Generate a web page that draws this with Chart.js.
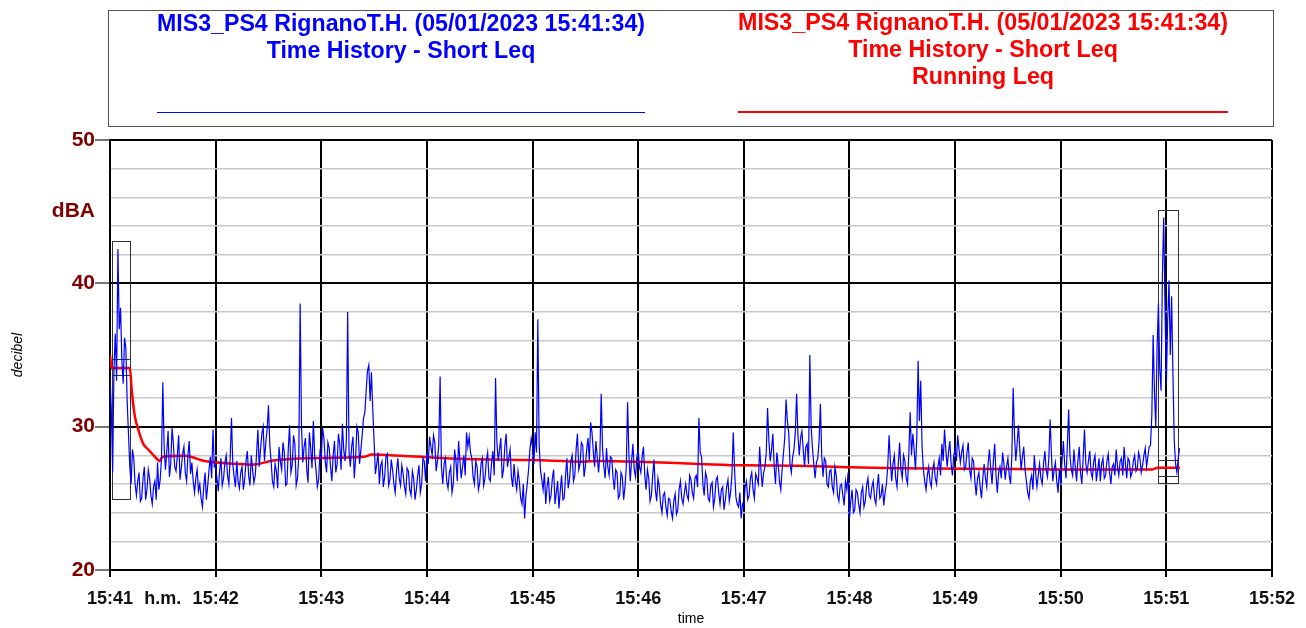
<!DOCTYPE html>
<html>
<head>
<meta charset="utf-8">
<title>MIS3_PS4 RignanoT.H. - Time History</title>
<script src="https://cdn.jsdelivr.net/npm/chart.js@4.4.0/dist/chart.umd.min.js"></script>
<style>
  html, body { margin: 0; padding: 0; background: #fff; }
  #wrap { width: 1306px; height: 628px; }
</style>
</head>
<body>
<div id="wrap"><canvas id="chart" width="1306" height="628"></canvas></div>
<script>
// Short Leq: one sample every 1.5 s from 15:41,
// plus the in-between readings (offset by half a step)
const stepSec = 1.5;
const leq4142 = [33.5,26.8,36.5,42.4,38.3,33.0,35.5,29.5,26.0,27.8,25.2,26.8,25.0,27.2,25.6,26.4,24.6,26.2,27.5,26.3,
                 33.1,27.0,29.7,27.4,28.8,26.9,29.4,27.1,28.6,26.2,29.0,27.5,25.4,27.0,26.0,24.4,26.8,25.9,27.9,29.8];
const leq4142h = [31.2,34.0,33.2,36.8,34.6,36.2,31.8,27.2,28.4,26.0,26.2,24.8,26.4,24.9,27.0,25.2,25.8,24.9,25.6,27.8,
                  28.6,28.2,26.5,29.9,27.2,28.0,26.3,28.1,26.8,28.0,26.7,26.2,26.4,25.5,25.0,25.8,24.9,27.0,26.4,27.2];
const leq4243 = [27.3,25.5,27.8,26.4,28.0,26.0,30.6,26.5,27.6,25.7,27.2,26.3,28.3,25.9,27.0,26.6,29.8,28.4,30.0,28.9,
                 31.5,27.6,25.8,26.9,28.6,27.0,28.2,26.0,30.1,27.3,28.8,26.4,38.6,27.5,29.2,26.1,28.5,30.4,27.0,26.3];
const leq4243h = [26.4,26.9,25.9,27.5,26.6,27.8,27.4,25.8,26.2,26.8,25.6,27.6,26.6,28.0,26.1,28.1,27.2,29.5,27.6,29.8,
                  28.8,26.2,27.4,25.7,27.6,28.9,25.9,28.4,26.8,29.4,25.9,28.0,30.2,28.6,27.0,29.6,27.1,28.0,25.8,28.2];
const leq4344 = [27.8,29.2,26.8,28.5,26.2,29.0,27.4,28.8,30.2,27.6,38.0,27.2,29.3,27.8,29.6,28.4,30.6,32.5,34.3,33.8,
                 29.0,27.4,26.0,27.6,26.5,28.1,26.3,27.0,25.4,27.8,25.9,26.7,25.3,26.9,25.2,26.4,25.6,27.3,26.0,27.6];
const leq4344h = [29.9,27.6,28.9,27.2,28.0,26.8,29.5,27.0,28.4,29.0,28.3,28.6,26.4,30.0,27.4,29.4,31.0,33.9,31.8,31.2,
                  26.7,28.2,27.3,25.8,27.9,25.9,27.7,26.0,26.9,26.4,27.3,25.8,27.1,25.6,26.9,24.9,26.6,25.4,27.8,26.2];
const leq4445 = [28.2,29.3,28.0,28.9,27.6,33.5,26.0,27.8,25.7,27.2,26.0,27.6,29.0,26.4,28.0,29.6,29.3,27.8,26.0,27.2,
                 26.1,27.8,26.4,28.2,26.2,28.3,33.4,27.6,29.2,27.0,29.5,27.8,26.5,27.4,25.6,26.2,24.6,23.6,26.0,28.4];
const leq4445h = [27.4,28.6,29.4,26.9,28.8,27.2,27.4,26.2,26.8,25.4,28.4,26.2,27.6,27.2,26.6,28.6,28.2,26.5,27.6,25.6,
                  27.4,25.9,27.6,26.4,27.5,26.6,28.9,28.4,26.4,28.6,27.2,28.4,25.8,26.2,26.9,25.0,26.0,25.2,27.0,29.2];
const leq4546 = [28.6,29.6,37.5,27.0,25.6,24.6,26.5,25.2,27.0,25.4,24.3,26.6,25.0,27.8,26.3,28.0,26.6,29.5,27.4,28.7,
                 27.2,29.2,30.3,28.3,29.0,26.8,32.3,27.2,28.5,26.6,27.8,25.6,26.8,25.2,26.5,25.8,31.7,26.2,28.8,26.5];
const leq4546h = [27.4,28.2,28.8,26.3,26.8,25.8,24.8,26.4,24.6,26.2,25.5,24.9,26.6,25.7,27.6,26.2,28.4,27.0,28.9,26.5,
                  28.4,27.6,29.6,27.2,27.9,28.0,28.5,26.4,27.2,27.9,26.4,27.0,25.0,26.8,24.9,27.2,28.0,27.6,27.0,27.9];
const leq4647 = [28.4,26.8,28.6,25.6,26.4,25.2,27.7,24.8,25.8,24.0,25.4,23.8,24.9,23.6,25.3,24.2,26.2,24.6,26.0,24.9,
                 26.3,25.0,26.6,30.6,27.9,25.2,26.4,24.8,26.1,25.0,26.5,24.6,25.8,24.9,26.3,25.4,29.6,25.1,24.4,23.6];
const leq4647h = [27.2,27.9,26.6,27.0,24.8,26.6,25.6,26.4,24.6,25.2,24.4,25.0,24.1,24.8,23.9,25.6,25.0,25.4,25.2,26.6,
                  25.4,26.4,25.8,28.2,26.0,26.8,25.0,25.9,24.4,26.3,25.4,25.6,24.2,25.8,24.8,26.6,27.0,24.6,25.4,24.6];
const leq4748 = [24.4,26.2,25.2,26.8,25.0,26.4,28.6,25.8,27.2,31.3,27.6,29.5,26.0,27.4,25.6,28.1,31.9,29.6,26.8,28.4,
                 32.3,28.0,29.7,27.2,28.8,35.0,28.5,26.4,27.8,31.6,26.5,27.6,25.8,27.0,25.4,26.6,24.8,26.0,24.5,25.6];
const leq4748h = [25.8,24.9,26.4,25.6,26.7,26.0,27.0,26.8,28.2,29.0,28.4,27.2,28.2,26.2,27.0,29.2,30.4,27.4,27.9,29.6,
                  29.4,29.2,28.4,28.6,27.4,30.0,27.4,27.5,29.0,28.0,27.8,26.0,26.9,25.8,27.2,25.2,25.9,25.2,26.2,26.8];
const leq4849 = [23.6,25.6,24.2,25.4,24.0,25.8,24.8,26.4,25.0,26.2,24.6,26.7,25.2,24.5,26.0,29.4,26.2,28.0,25.8,28.9,
                 26.4,27.6,26.0,31.0,29.5,27.0,34.6,33.2,27.0,25.6,27.2,25.8,27.5,26.0,27.8,28.8,29.8,27.2,29.0,26.6];
const leq4849h = [24.8,24.0,25.6,24.6,25.4,24.4,25.9,25.2,25.8,25.0,25.8,25.0,26.0,25.4,27.2,27.6,27.4,26.4,27.4,27.0,
                  28.0,26.4,28.2,28.0,28.4,29.2,30.4,28.6,26.2,26.6,26.2,27.0,26.4,27.2,26.6,27.6,28.4,28.2,27.4,28.0];
const leq4950 = [28.4,29.4,27.5,28.7,27.2,28.9,26.4,27.6,25.2,26.8,25.0,27.4,25.8,28.4,26.0,28.8,25.4,27.2,28.2,26.3,
                 27.8,26.0,32.7,27.6,30.1,27.0,28.6,26.2,25.0,26.6,28.0,25.8,27.4,26.0,28.3,26.5,30.5,26.2,27.5,25.4];
const leq4950h = [27.6,28.4,28.2,27.0,28.2,27.0,27.8,26.2,26.4,25.8,26.4,26.4,27.4,27.0,27.6,26.6,26.8,26.4,27.4,27.2,
                  26.6,28.0,29.4,28.8,28.4,27.9,27.0,25.4,26.2,25.6,26.8,26.6,26.4,27.4,27.0,27.8,28.0,27.0,26.2,27.0];
const leq5051 = [26.0,29.0,26.4,31.2,27.0,28.4,26.2,28.6,26.0,29.8,26.8,28.3,26.4,28.0,27.0,26.2,27.8,26.6,28.1,26.0,
                 27.4,28.4,26.6,27.8,28.6,26.4,27.6,26.8,28.0,27.1,27.8,27.3,28.5,27.9,28.7,36.4,30.0,38.6,32.5,44.6];
const leq5051h = [27.6,27.4,28.6,28.0,26.6,27.2,27.6,26.8,27.8,27.4,27.6,26.8,27.6,26.2,27.8,27.4,26.4,27.6,26.8,27.2,
                  26.6,27.2,27.6,26.6,27.4,27.8,26.5,27.6,26.9,28.2,26.8,28.0,27.2,28.6,30.8,32.4,35.6,34.0,40.5,38.2];
const leq5152 = [33.0,40.2,39.1,29.0,26.8,28.5];
const leq5152h = [37.4,35.0,33.6,27.4,27.8];

// Running Leq (minutes after 15:41, dB)
const runTimes = [0,0.016,0.189,0.205,0.236,0.268,0.315,0.363,0.426,0.473,0.495,0.709,0.898,1.214,1.34,1.56,1.844,
                  2.412,2.475,2.79,3.374,4.0,4.477,4.635,5.0,5.58,6.0,6.48,7.0,7.47,8.37,8.985,9.87,9.915,10.13];
const runLeq = [35.0,34.1,34.1,32.6,30.7,29.8,28.8,28.4,27.9,27.6,27.9,27.97,27.6,27.4,27.35,27.65,27.8,
                27.9,28.05,27.95,27.74,27.67,27.56,27.6,27.55,27.4,27.3,27.28,27.16,27.1,27.05,27.02,27.02,27.14,27.14];

// Marked events (minutes, dB)
const markFrom = [0.022, 9.92];
const markTo = [0.189, 10.11];
const markTop = [42.95, 45.15];
const markBottom = [24.95, 26.1];
const markInnerTop = [34.7, 27.67];
const markInnerBottom = [33.6, 26.58];

// axes
const yTicks = [20,22,24,26,28,30,32,34,36,38,40,42,44,45,46,48,50];
const xTicks = [0,0.5,1,1.5,2,2.5,3,3.5,4,4.5,5,5.5,6,6.5,7,7.5,8,8.5,9,9.5,10,10.5,11];
const firstMinute = 41;

// legend
const legendBlue = ['MIS3_PS4 RignanoT.H. (05/01/2023 15:41:34)', 'Time History - Short Leq'];
const legendRed = ['MIS3_PS4 RignanoT.H. (05/01/2023 15:41:34)', 'Time History - Short Leq', 'Running Leq'];

const shortLeq = [].concat(leq4142, leq4243, leq4344, leq4445, leq4546, leq4647, leq4748, leq4849, leq4950, leq5051, leq5152);
const shortMid = [].concat(leq4142h, leq4243h, leq4344h, leq4445h, leq4546h, leq4647h, leq4748h, leq4849h, leq4950h, leq5051h, leq5152h);
const shortPts = [];
shortLeq.forEach((v, i) => {
    shortPts.push({ x: i * stepSec / 60, y: v });
    if (i < shortMid.length) shortPts.push({ x: (i + 0.5) * stepSec / 60, y: shortMid[i] });
});
const runPts = runLeq.map((v, i) => ({ x: runTimes[i], y: v }));

const FONT = '"Liberation Sans", Arial, sans-serif';

const eventMarks = {
    id: 'eventMarks',
    beforeDatasetsDraw(chart) {
        const { ctx, scales: { x, y } } = chart;
        ctx.save();
        ctx.strokeStyle = '#333';
        ctx.lineWidth = 1;
        markFrom.forEach((t, i) => {
            const x0 = Math.round(x.getPixelForValue(t)) + 0.5;
            const x1 = Math.round(x.getPixelForValue(markTo[i])) + 0.5;
            [[markTop[i], markBottom[i]], [markInnerTop[i], markInnerBottom[i]]].forEach(([hi, lo]) => {
                const y0 = Math.round(y.getPixelForValue(hi)) + 0.5;
                const y1 = Math.round(y.getPixelForValue(lo)) + 0.5;
                ctx.strokeRect(x0, y0, x1 - x0, y1 - y0);
            });
        });
        ctx.restore();
    }
};

// draws a block of centred lines squeezed to a given width
function drawEntry(ctx, lines, color, cx, y0, gap, width) {
    ctx.fillStyle = color;
    const sx = width / Math.max(...lines.map(s => ctx.measureText(s).width));
    lines.forEach((s, i) => {
        ctx.save();
        ctx.translate(cx, y0 + i * gap);
        ctx.scale(sx, 1);
        ctx.fillText(s, 0, 0);
        ctx.restore();
    });
}

const legendBox = {
    id: 'legendBox',
    afterDraw(chart) {
        const ctx = chart.ctx;
        ctx.save();
        ctx.strokeStyle = '#555';
        ctx.lineWidth = 1;
        ctx.strokeRect(108.5, 10.5, 1165, 116);
        ctx.font = 'bold 23px ' + FONT;
        ctx.textAlign = 'center';
        ctx.textBaseline = 'middle';
        drawEntry(ctx, legendBlue, '#0000ff', 401, 25, 26.5, 488);
        drawEntry(ctx, legendRed, '#ff0000', 983, 24, 27, 490);
        ctx.strokeStyle = '#0000ff';
        ctx.lineWidth = 1;
        ctx.beginPath(); ctx.moveTo(157, 112.5); ctx.lineTo(645, 112.5); ctx.stroke();
        ctx.strokeStyle = '#ff0000';
        ctx.lineWidth = 2;
        ctx.beginPath(); ctx.moveTo(738, 112); ctx.lineTo(1228, 112); ctx.stroke();
        ctx.restore();
    }
};

new Chart(document.getElementById('chart'), {
    type: 'line',
    data: {
        datasets: [{
            label: 'Time History - Short Leq',
            data: shortPts,
            borderColor: '#0000ff',
            borderWidth: 1.2,
            pointRadius: 0,
            tension: 0
        }, {
            label: 'Running Leq',
            data: runPts,
            borderColor: '#ff0000',
            borderWidth: 2.5,
            pointRadius: 0,
            cubicInterpolationMode: 'monotone'
        }]
    },
    options: {
        responsive: false,
        animation: false,
        layout: { padding: { top: 140, right: 33, left: 0, bottom: 0 } },
        plugins: { legend: { display: false }, tooltip: { enabled: false } },
        scales: {
            x: {
                type: 'linear',
                min: 0,
                max: 11,
                afterBuildTicks: s => { s.ticks = xTicks.map(v => ({ value: v })); },
                afterFit: s => { s.height = 58; },
                border: { color: '#000', width: 2 },
                grid: {
                    color: c => Number.isInteger(c.tick.value) ? '#000' : 'rgba(0,0,0,0)',
                    lineWidth: 2,
                    tickLength: 7
                },
                ticks: {
                    autoSkip: false,
                    maxRotation: 0,
                    padding: 11,
                    color: '#111',
                    font: { family: FONT, size: 18, weight: 'bold' },
                    callback: v => {
                        if (Number.isInteger(v)) return '15:' + (firstMinute + v);
                        return v === 0.5 ? 'h.m.' : '';
                    }
                },
                title: {
                    display: true,
                    text: 'time',
                    color: '#000',
                    padding: { top: 0, bottom: 0 },
                    font: { family: FONT, size: 14 }
                }
            },
            y: {
                type: 'linear',
                min: 20,
                max: 50,
                afterBuildTicks: s => { s.ticks = yTicks.map(v => ({ value: v })); },
                afterFit: s => { s.width = 110; },
                border: { color: '#000', width: 2 },
                grid: {
                    color: c => {
                        const v = c.tick.value;
                        if (v === 45) return 'rgba(0,0,0,0)';
                        return v % 10 === 0 ? '#000' : '#c8c8c8';
                    },
                    lineWidth: c => c.tick.value % 10 === 0 ? 2 : 1.5,
                    tickColor: c => c.tick.value % 10 === 0 ? '#777' : 'rgba(0,0,0,0)',
                    tickLength: 15
                },
                ticks: {
                    autoSkip: false,
                    padding: 0,
                    color: '#800000',
                    font: { family: FONT, size: 21, weight: 'bold' },
                    callback: v => v === 45 ? 'dBA' : (v % 10 === 0 ? String(v) : '')
                },
                title: {
                    display: true,
                    text: 'decibel',
                    color: '#000',
                    padding: { top: 10, bottom: 0 },
                    font: { family: FONT, size: 14, style: 'italic' }
                }
            }
        }
    },
    plugins: [eventMarks, legendBox]
});
</script>
</body>
</html>
